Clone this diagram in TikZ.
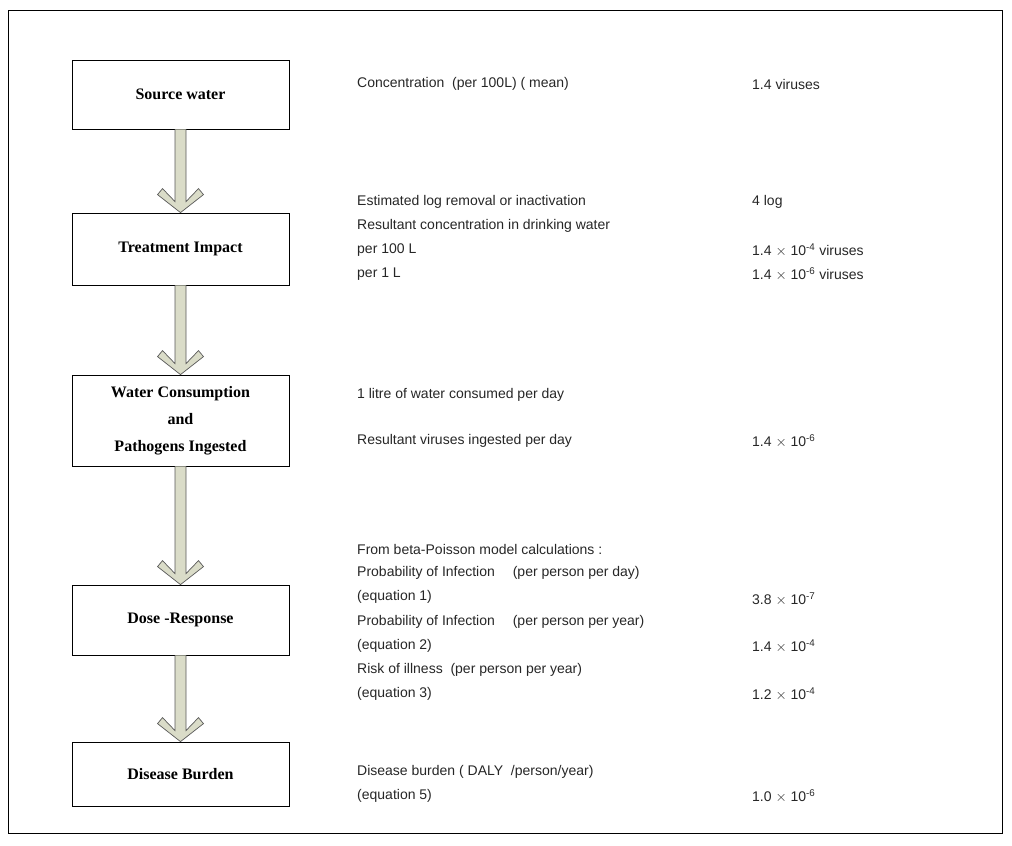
\documentclass[tikz,border=0pt]{standalone}
\usepackage{fontspec}
\setmainfont{Liberation Serif}
\newfontfamily\arial{Liberation Sans}
\newcommand{\tn}[1]{$\times$ 10\textsuperscript{-#1}}
\begin{document}
\begin{tikzpicture}[x=1pt,y=-1pt,
  stepbox/.style={draw=black,line width=0.8pt,fill=white,inner sep=0pt},
  lbl/.style={font=\bfseries\fontsize{16}{27}\selectfont,align=center},
  txt/.style={anchor=west,inner sep=0pt,font=\arial\fontsize{14}{16}\selectfont,text=black!85}]
\useasboundingbox (0,0) rectangle (1012,846);
\draw[line width=0.8pt] (8,10) rectangle (1002,833);
\node[stepbox,minimum width=217,minimum height=69] (b1) at (180.5,94.5) {};
\node[stepbox,minimum width=217,minimum height=72] (b2) at (180.5,249) {};
\node[stepbox,minimum width=217,minimum height=91] (b3) at (180.5,420.5) {};
\node[stepbox,minimum width=217,minimum height=70] (b4) at (180.5,620) {};
\node[stepbox,minimum width=217,minimum height=64] (b5) at (180.5,774) {};
\node[lbl] at (b1) {Source water};
\node[lbl] at (b2) {Treatment Impact};
\node[lbl] at (b3) {Water Consumption\\and\\Pathogens Ingested};
\node[lbl] at (b4) {Dose -Response};
\node[lbl] at (b5) {Disease Burden};
\newcommand{\fatarrow}[2]{%
  \path (#1.south) coordinate (s) (#2.north) coordinate (t);
  \draw[fill={rgb,255:red,218;green,220;blue,200},draw=black!65,line width=0.7pt,line join=miter]
    ([xshift=-5.5]s) -- ([xshift=-5.5,yshift=11]t) -- ([xshift=-18,yshift=24]t)
    -- ([xshift=-23,yshift=18]t) -- (t) -- ([xshift=23,yshift=18]t)
    -- ([xshift=18,yshift=24]t) -- ([xshift=5.5,yshift=11]t) -- ([xshift=5.5]s);}
\fatarrow{b1}{b2}
\fatarrow{b2}{b3}
\fatarrow{b3}{b4}
\fatarrow{b4}{b5}
\def\a{357}\def\b{752}
\node[txt] (t1) at (\a,84) {Concentration \ (per 100L) ( mean)};
\node[txt] (v1) at (\b,84) {1.4 viruses};
\node[txt] (t2) at (\a,202) {Estimated log removal or inactivation};
\node[txt] (v2) at (\b,202) {4 log};
\node[txt] (t3) at (\a,226) {Resultant concentration in drinking water};
\node[txt] (t4) at (\a,250) {per 100 L};
\node[txt] (v4) at (\b,250) {1.4 \tn{4} viruses};
\node[txt] (t5) at (\a,274) {per 1 L};
\node[txt] (v5) at (\b,274) {1.4 \tn{6} viruses};
\node[txt] (t6) at (\a,395) {1 litre of water consumed per day};
\node[txt] (t7) at (\a,441) {Resultant viruses ingested per day};
\node[txt] (v7) at (\b,441) {1.4 \tn{6}};
\node[txt] (t8) at (\a,549) {From beta-Poisson model calculations :};
\node[txt] (t9) at (\a,573) {Probability of Infection \quad (per person per day)};
\node[txt] (t10) at (\a,597) {(equation 1)};
\node[txt] (v10) at (\b,599) {3.8 \tn{7}};
\node[txt] (t11) at (\a,622) {Probability of Infection \quad (per person per year)};
\node[txt] (t12) at (\a,646) {(equation 2)};
\node[txt] (v12) at (\b,646) {1.4 \tn{4}};
\node[txt] (t13) at (\a,670) {Risk of illness \ (per person per year)};
\node[txt] (t14) at (\a,694) {(equation 3)};
\node[txt] (v14) at (\b,694) {1.2 \tn{4}};
\node[txt] (t15) at (\a,772) {Disease burden ( DALY \ /person/year)};
\node[txt] (t16) at (\a,796) {(equation 5)};
\node[txt] (v16) at (\b,796) {1.0 \tn{6}};
\end{tikzpicture}
\end{document}
